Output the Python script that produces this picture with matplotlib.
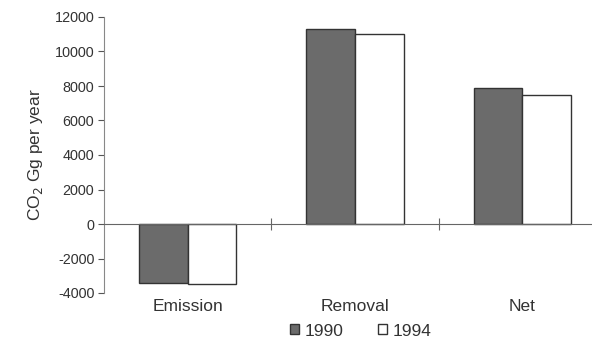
import numpy as np
import matplotlib
matplotlib.use('Agg')
from matplotlib import pyplot as plt

# CO2 balance by category (Gg per year)
categories = ['Emission', 'Removal', 'Net']
years = ['1990', '1994']
values_1990 = [-3400, 11300, 7900]
values_1994 = [-3500, 11000, 7500]

plt.rcParams['font.family'] = ['Liberation Sans', 'DejaVu Sans']
plt.rcParams['axes.unicode_minus'] = False

fig = plt.figure(figsize=(5.92, 3.40), dpi=100)
ax = fig.add_axes([104 / 592, 1 - 293 / 340, 502 / 592, 276 / 340])

x = np.arange(len(categories))
w = 0.29
ax.bar(x - w / 2, values_1990, w, color='#6b6b6b', edgecolor='#333333', linewidth=1.0, label=years[0])
ax.bar(x + w / 2, values_1994, w, color='white', edgecolor='#333333', linewidth=1.0, label=years[1])

ax.set_xlim(-0.5, 2.5)
ax.set_ylim(-4000, 12000)
ax.set_yticks(np.arange(-4000, 12001, 2000))
ax.tick_params(axis='y', labelsize=10.4, colors='#555555', labelcolor='#333333', length=4, width=0.8, pad=3)

# x axis sits on zero, with ticks between categories
for s in ['top', 'right']:
    ax.spines[s].set_visible(False)
ax.spines['bottom'].set_position(('data', 0))
ax.spines['bottom'].set_color('#666666')
ax.spines['left'].set_color('#888888')
ax.set_xticks([0.5, 1.5])
ax.set_xticklabels([])
ax.tick_params(axis='x', direction='inout', length=8, width=0.8, colors='#666666')

for i, c in enumerate(categories):
    ax.annotate(c, xy=(i, -4000), xytext=(0, -4.5), textcoords='offset points',
                ha='center', va='top', fontsize=12.5, color='#333333')

ax.set_ylabel('CO$_2$ Gg per year', fontsize=12.5, color='#333333', labelpad=7)

fig.legend(*ax.get_legend_handles_labels(), loc='center',
           bbox_to_anchor=(361 / 592, 1 - 331 / 340), ncol=2, frameon=False,
           fontsize=12.5, handlelength=0.5, handleheight=0.5, handletextpad=0.35,
           columnspacing=2.0, labelcolor='#333333', borderpad=0)

plt.savefig('out.png', dpi=100)
